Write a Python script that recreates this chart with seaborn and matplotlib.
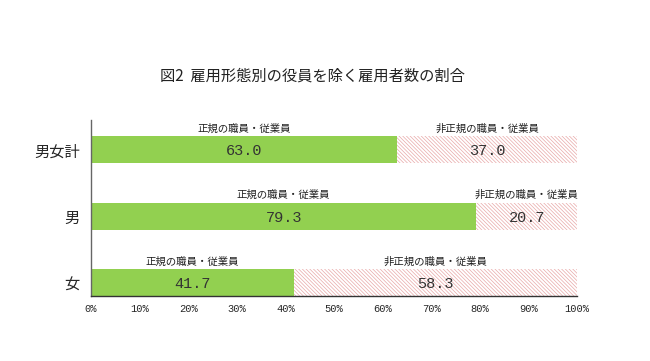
import matplotlib
matplotlib.use("Agg")
import matplotlib.pyplot as plt
import seaborn as sns
import pandas as pd
import numpy as np

# ── Data ──────────────────────────────────────────────────────────────────────
categories  = ["男女計", "男", "女"]
regular     = [63.0, 79.3, 41.7]
non_regular = [37.0, 20.7, 58.3]
label_reg   = "正規の職員・従業員"
label_non   = "非正規の職員・従業員"
title       = "図2  雇用形態別の役員を除く雇用者数の割合"
x_ticks     = list(range(0, 101, 10))

GREEN = "#92D050"
PINK  = "#E8A8A8"

sns.set_theme(style="white")
plt.rcParams["font.family"] = ["Noto Sans CJK JP", "DejaVu Sans"]
plt.rcParams["hatch.color"] = PINK
plt.rcParams["hatch.linewidth"] = 0.5

df = pd.DataFrame({
    "category": categories,
    "regular": regular,
    "total": np.array(regular) + np.array(non_regular),
})

fig = plt.figure(figsize=(6.5, 3.61), dpi=100)
ax = fig.add_axes([0.14, 0.18, 0.7477, 0.488])

# pink (total) bar underneath, green bar on top
sns.barplot(data=df, x="total", y="category", orient="h", width=0.4,
            color="white", edgecolor=PINK, linewidth=0, hatch="\\" * 9,
            ax=ax)
sns.barplot(data=df, x="regular", y="category", orient="h", width=0.4,
            color=GREEN, saturation=1, linewidth=0, ax=ax)

for i, (r, n) in enumerate(zip(regular, non_regular)):
    ax.text(r / 2, i + 0.02, f"{r:.1f}", ha="center", va="center",
            fontsize=11, family="Liberation Mono", color="#333333")
    ax.text(r + n / 2, i + 0.02, f"{n:.1f}", ha="center", va="center",
            fontsize=11, family="Liberation Mono", color="#333333")
    ax.text(r / 2, i - 0.24, label_reg, ha="center", va="bottom",
            fontsize=7.5, color="#222222")
    ax.text(r + n / 2, i - 0.24, label_non, ha="center", va="bottom",
            fontsize=7.5, color="#222222")

ax.set_xlim(0, 100)
ax.set_ylim(2.2, -0.45)
ax.set_xticks(x_ticks)
ax.set_xticklabels([f"{t}%" for t in x_ticks], fontsize=7.5, family="Liberation Mono")
ax.set_yticks(range(len(categories)))
ax.set_yticklabels(categories, fontsize=11)
ax.set_yticks([-0.45, 0.5, 1.5], minor=True)
ax.tick_params(axis="y", which="major", length=0, pad=8)
ax.tick_params(axis="y", which="minor", length=4, direction="out", color="#555555")
ax.tick_params(axis="x", length=3, direction="out", color="#333333", pad=3)
ax.set_xlabel("")
ax.set_ylabel("")
for s in ["top", "right"]:
    ax.spines[s].set_visible(False)
ax.spines["left"].set_color("#666666")
ax.spines["bottom"].set_color("#333333")
ax.spines["left"].set_linewidth(1.0)
ax.spines["bottom"].set_linewidth(1.0)

fig.text(0.48, 0.79, title, ha="center", va="center", fontsize=11, color="#222222")

fig.savefig("out.png", dpi=100)
